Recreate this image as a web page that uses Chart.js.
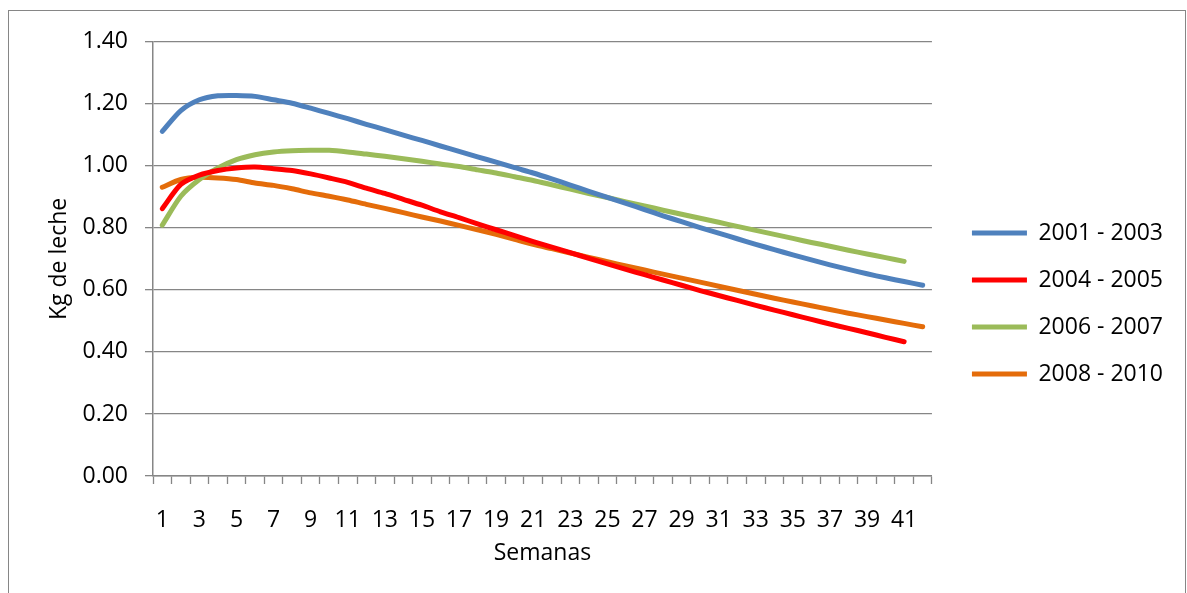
<!DOCTYPE html>
<html>
<head>
<meta charset="utf-8">
<script src="https://cdn.jsdelivr.net/npm/chart.js@4.4.1/dist/chart.umd.min.js"></script>
<style>
  body { margin: 0; background: #fff; }
  #box { position: absolute; left: 8px; top: 10px; width: 1176px; height: 600px; border: 1px solid #868686; }
  #wrap { position: absolute; left: 0; top: 0; width: 1176px; height: 584px; }
</style>
</head>
<body>
<div id="box"><div id="wrap"><canvas id="lecheChart"></canvas></div></div>
<script>
// semanas 1..42
var weeks = ['1', '2', '3', '4', '5', '6', '7', '8', '9', '10', '11', '12', '13', '14', '15', '16', '17', '18', '19', '20', '21',
  '22', '23', '24', '25', '26', '27', '28', '29', '30', '31', '32', '33', '34', '35', '36', '37', '38', '39', '40', '41', '42'];

var s2001 = [1.111, 1.178, 1.213, 1.226, 1.227, 1.224, 1.213, 1.202, 1.186, 1.169, 1.152, 1.134, 1.117, 1.099, 1.082, 1.064, 1.047,
  1.029, 1.012, 0.994, 0.977, 0.958, 0.938, 0.918, 0.898, 0.879, 0.859, 0.839, 0.820, 0.801, 0.783, 0.765, 0.747, 0.730, 0.713,
  0.697, 0.681, 0.666, 0.652, 0.639, 0.627, 0.615];
var s2004 = [0.862, 0.940, 0.970, 0.985, 0.993, 0.996, 0.991, 0.985, 0.974, 0.961, 0.947, 0.928, 0.911, 0.892, 0.873, 0.852, 0.833,
  0.813, 0.794, 0.775, 0.756, 0.738, 0.720, 0.702, 0.684, 0.666, 0.649, 0.632, 0.615, 0.598, 0.582, 0.566, 0.550, 0.535, 0.520,
  0.505, 0.490, 0.476, 0.462, 0.447, 0.433];
var s2006 = [0.809, 0.902, 0.956, 0.993, 1.020, 1.036, 1.045, 1.049, 1.050, 1.050, 1.045, 1.038, 1.031, 1.023, 1.015, 1.006, 0.998,
  0.987, 0.977, 0.965, 0.953, 0.939, 0.925, 0.911, 0.898, 0.884, 0.871, 0.857, 0.844, 0.831, 0.818, 0.805, 0.792, 0.779, 0.766,
  0.753, 0.741, 0.728, 0.716, 0.704, 0.692];
var s2008 = [0.931, 0.956, 0.963, 0.961, 0.956, 0.945, 0.937, 0.926, 0.913, 0.902, 0.890, 0.876, 0.863, 0.849, 0.835, 0.822, 0.808,
  0.794, 0.779, 0.763, 0.747, 0.733, 0.719, 0.705, 0.691, 0.677, 0.664, 0.651, 0.638, 0.625, 0.612, 0.599, 0.586, 0.573, 0.561,
  0.549, 0.537, 0.525, 0.514, 0.503, 0.492, 0.481];

var axisGray = '#868686';
var txt = '#000000';
var fnt = "'Open Sans', sans-serif";

function line(label, data, color) {
  return {
    label: label,
    data: data,
    borderColor: color,
    backgroundColor: color,
    borderWidth: 5,
    borderCapStyle: 'round',
    borderJoinStyle: 'round',
    pointRadius: 0,
    pointHoverRadius: 0,
    pointStyle: 'line',
    tension: 0.25
  };
}

var ctx = document.getElementById('lecheChart').getContext('2d');
var lecheChart = new Chart(ctx, {
  type: 'line',
  data: {
    labels: weeks,
    datasets: [
      line('2001 - 2003', s2001, '#4F81BD'),
      line('2004 - 2005', s2004, '#FF0000'),
      line('2006 - 2007', s2006, '#9BBB59'),
      line('2008 - 2010', s2008, '#E46C0A')
    ]
  },
  options: {
    responsive: true,
    maintainAspectRatio: false,
    animation: false,
    layout: {
      padding: { top: 29, bottom: 28, left: 0, right: 12 }
    },
    plugins: {
      legend: {
        position: 'right',
        maxWidth: 300,
        labels: {
          usePointStyle: true,
          pointStyle: 'line',
          pointStyleWidth: 55,
          boxHeight: 5,
          padding: 24,
          color: txt,
          font: { family: fnt, size: 23 }
        }
      },
      tooltip: {
        enabled: false
      }
    },
    scales: {
      x: {
        offset: true,
        grid: {
          offset: true,
          drawOnChartArea: false,
          tickLength: 8,
          tickColor: axisGray,
          tickWidth: 1.3
        },
        border: { color: axisGray, width: 1.5 },
        ticks: {
          autoSkip: false,
          maxRotation: 0,
          padding: 23,
          color: txt,
          font: { family: fnt, size: 23 },
          callback: function (v, i) { return i % 2 === 0 ? weeks[i] : ''; }
        },
        title: {
          display: true,
          text: 'Semanas',
          color: txt,
          padding: 0,
          font: { family: fnt, size: 23 }
        },
        afterFit: function (s) { s.height = 91; }
      },
      y: {
        min: 0,
        max: 1.4,
        grid: {
          color: axisGray,
          lineWidth: 1.3,
          tickLength: 8
        },
        border: { color: axisGray, width: 1.5 },
        ticks: {
          stepSize: 0.2,
          padding: 17,
          color: txt,
          font: { family: fnt, size: 23 },
          callback: function (v) { return v.toFixed(2); }
        },
        title: {
          display: true,
          text: 'Kg de leche',
          color: txt,
          padding: { top: 37, bottom: 0 },
          font: { family: fnt, size: 23 }
        },
        afterFit: function (s) { s.width = 144; }
      },
      // empty space between plot and legend
      gap: {
        type: 'linear',
        position: 'right',
        grid: { display: false },
        border: { display: false },
        ticks: { display: false },
        afterFit: function (s) { s.width = 16; }
      }
    }
  }
});
</script>
</body>
</html>
